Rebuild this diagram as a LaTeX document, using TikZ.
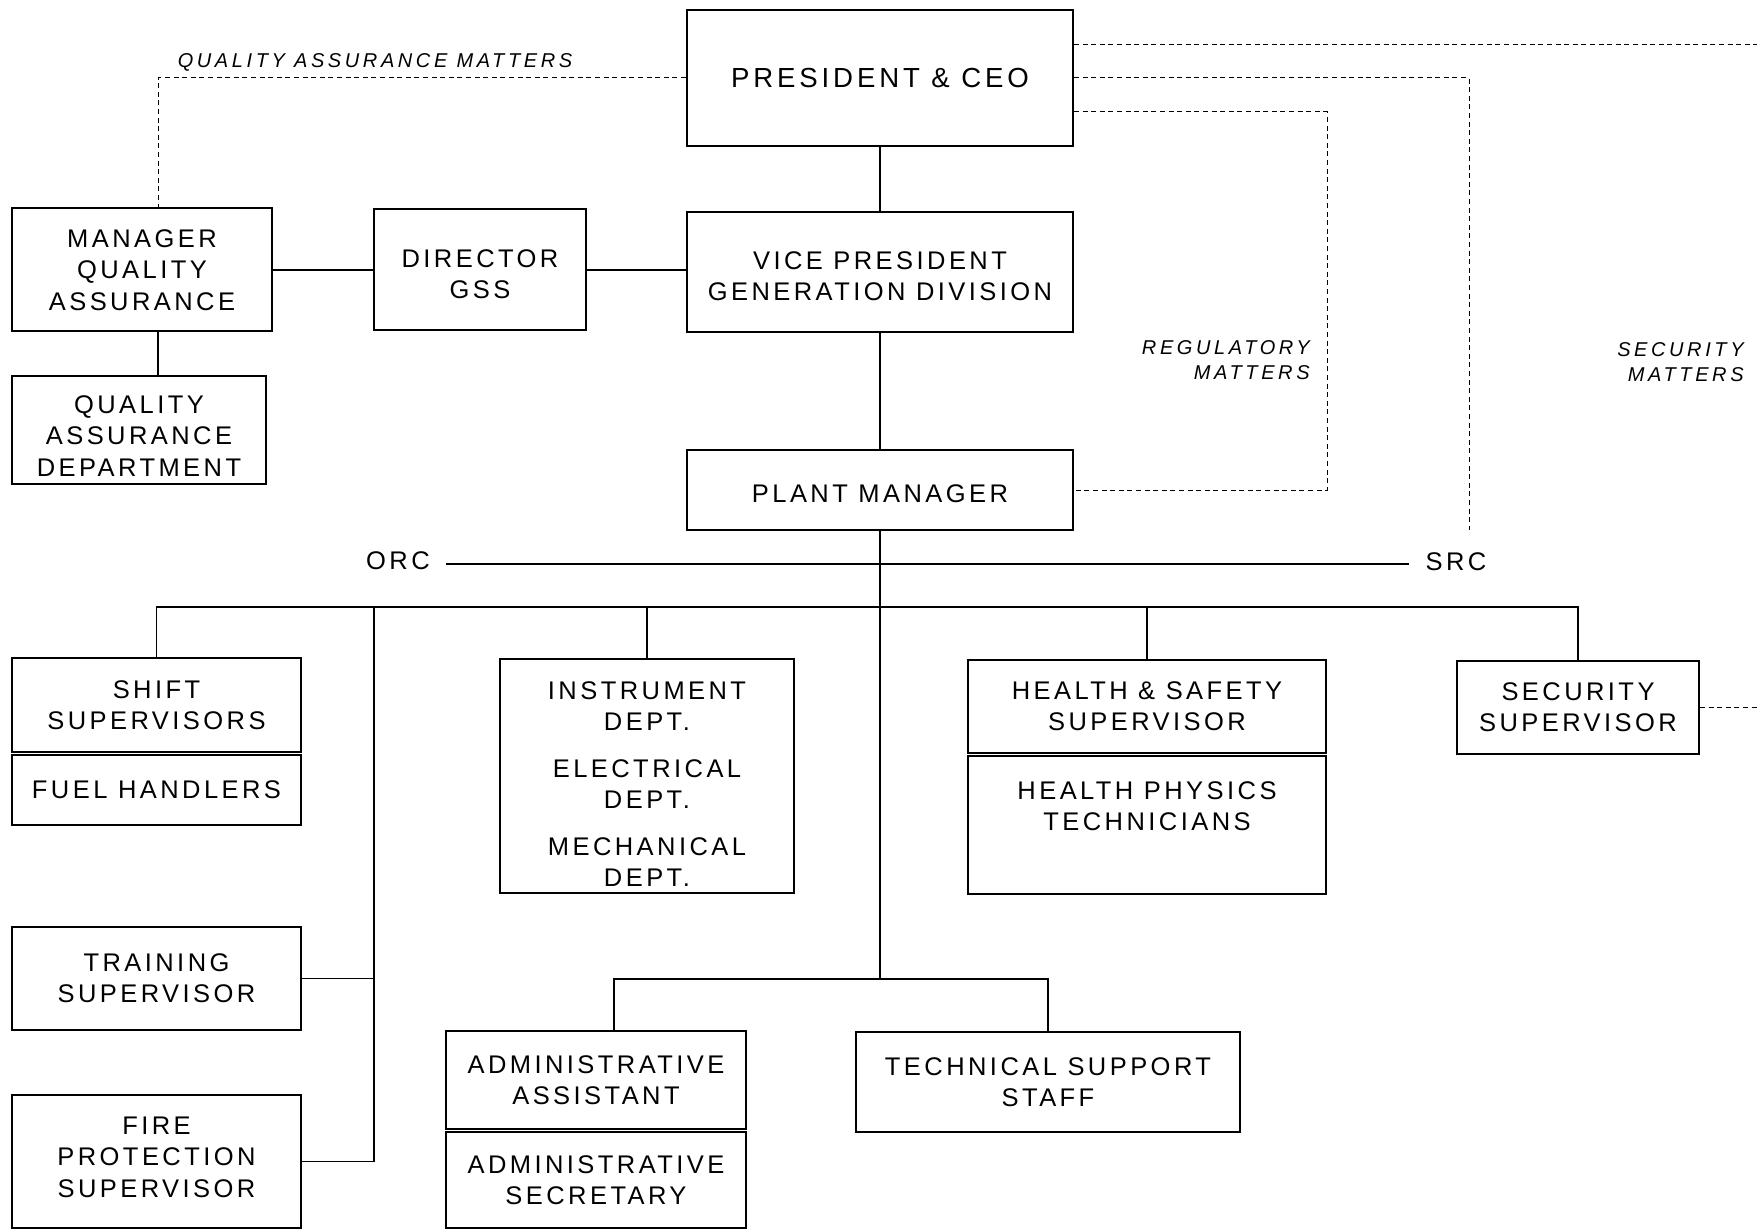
\documentclass[tikz,border=0pt]{standalone}
\usepackage{fontspec}
\newfontfamily\orgfont[LetterSpace=13.5]{Liberation Sans}
\newfontfamily\orgheadfont[LetterSpace=14]{Liberation Sans}
\newfontfamily\notefont[LetterSpace=18]{Liberation Sans}
\tikzset{org box/.style={draw, line width=1pt, inner sep=0pt, align=center, font=\orgfont\fontsize{12.75}{15.7}\selectfont}}
\tikzset{org line/.style={line width=0.7pt}}
\tikzset{dash line/.style={line width=0.5pt, dash pattern=on 2.5pt off 1.8pt}}
\tikzset{side note/.style={inner sep=0pt, align=right, font=\notefont\itshape\fontsize{10}{12.3}\selectfont}}
\tikzset{bus tag/.style={inner sep=0pt, align=center, font=\orgfont\fontsize{12.75}{15.7}\selectfont}}

\begin{document}
\begin{tikzpicture}[x=0.5pt, y=-0.5pt]
    \useasboundingbox (0,0) rectangle (1757,1230);
    \node[org box, minimum width=193pt, minimum height=68pt, font=\orgheadfont\fontsize{13.8}{15}\selectfont] (pres) at (880,78) {PRESIDENT \& CEO};
    \node[org box, minimum width=193pt, minimum height=60pt] (vp) at (880,272) {};
    \node[bus tag] (vptext) at (880,276) {VICE PRESIDENT\\GENERATION DIVISION};
    \node[org box, minimum width=193pt, minimum height=40pt] (plant) at (880,490) {};
    \node[bus tag] (planttext) at (880,494) {PLANT MANAGER};
    \node[org box, minimum width=130pt, minimum height=61.5pt] (mqa) at (142,270) {MANAGER\\QUALITY\\ASSURANCE};
    \node[org box, minimum width=106pt, minimum height=60.5pt] (dir) at (480,270) {};
    \node[bus tag] (dirtext) at (480,274) {DIRECTOR\\GSS};
    \node[org box, minimum width=127pt, minimum height=54pt] (qad) at (139,430) {};
    \node[bus tag] (qadtext) at (139,436) {QUALITY\\ASSURANCE\\DEPARTMENT};
    \node[org box, minimum width=144.5pt, minimum height=47pt] (shift) at (156.5,705) {SHIFT\\SUPERVISORS};
    \node[org box, minimum width=144.5pt, minimum height=35pt] (fuel) at (156.5,790) {FUEL HANDLERS};
    \node[org box, minimum width=144.5pt, minimum height=51.5pt] (train) at (156.5,978.5) {TRAINING\\SUPERVISOR};
    \node[org box, minimum width=144.5pt, minimum height=66.5pt] (fire) at (156.5,1161.5) {};
    \node[bus tag] (firetext) at (156.5,1157) {FIRE\\PROTECTION\\SUPERVISOR};
    \node[org box, minimum width=147pt, minimum height=117pt] (inst) at (647,776) {};
    \node[bus tag] (insttext) at (647,784) {INSTRUMENT\\DEPT.\\[7.5pt]ELECTRICAL\\DEPT.\\[7.5pt]MECHANICAL\\DEPT.};
    \node[org box, minimum width=179pt, minimum height=46.5pt] (hs) at (1147,706.5) {HEALTH \& SAFETY\\SUPERVISOR};
    \node[org box, minimum width=179pt, minimum height=69pt] (hp) at (1147,825) {};
    \node[bus tag] (hptext) at (1147,806) {HEALTH PHYSICS\\TECHNICIANS};
    \node[org box, minimum width=121pt, minimum height=46.5pt] (sec) at (1578,707.5) {SECURITY\\SUPERVISOR};
    \node[org box, minimum width=150pt, minimum height=49pt] (asst) at (596,1080) {ADMINISTRATIVE\\ASSISTANT};
    \node[org box, minimum width=150pt, minimum height=48pt] (secr) at (596,1180) {ADMINISTRATIVE\\SECRETARY};
    \node[org box, minimum width=192pt, minimum height=50pt] (tech) at (1048,1082) {TECHNICAL SUPPORT\\STAFF};
    \node[bus tag] (orc) at (398,561) {ORC};
    \node[bus tag] (src) at (1456,562) {SRC};
    \node[side note] (qanote) at (375,62.5) {QUALITY ASSURANCE MATTERS};
    \node[side note, anchor=east] (regnote) at (1310,360) {REGULATORY\\MATTERS};
    \node[side note, anchor=east] (secnote) at (1744,362) {SECURITY\\MATTERS};

    \coordinate (uphub) at (880,607);
    \coordinate (lowhub) at (880,979);
    \coordinate (leftbus) at (374,607);
    \coordinate (srcdrop) at (1469,530);
    \coordinate (regcorner) at (1327,490);
    \coordinate (farA) at (1757,45);
    \coordinate (farB) at (1757,707.5);

    \draw[org line] (pres) -- (vp);
    \draw[org line] (vp) -- (plant);
    \draw[org line] (mqa) -- (dir);
    \draw[org line] (dir.east) -- (dir.east -| vp.west);
    \draw[org line] ([xshift=8pt]mqa.south) -- ([xshift=8pt]mqa.south |- qad.north);
    \draw[org line] (plant) -- (lowhub);
    \draw[org line] (shift.north) |- (uphub) -| (sec.north);
    \draw[org line] (leftbus) |- (fire.east);
    \draw[org line] (train.east) -- (train.east -| leftbus);
    \draw[org line] (inst.north) -- (inst.north |- uphub);
    \draw[org line] (hs.north) -- (hs.north |- uphub);
    \draw[org line] ([xshift=9pt]asst.north) |- (lowhub) -| (tech.north);
    \draw[org line, shorten <=8pt, shorten >=8pt] ([yshift=-1.5pt]orc.east) -- ([yshift=-1.5pt]orc.east -| src.west);

    \draw[dash line] (pres.west) -| ([xshift=8pt]mqa.north);
    \draw[dash line] ([yshift=16.5pt]pres.east) -- (farA);
    \draw[dash line] (pres.east) -| (srcdrop);
    \draw[dash line] ([yshift=-17pt]pres.east) -| (regcorner) -- (plant.east);
    \draw[dash line] (sec.east) -- (farB);
\end{tikzpicture}
\end{document}
